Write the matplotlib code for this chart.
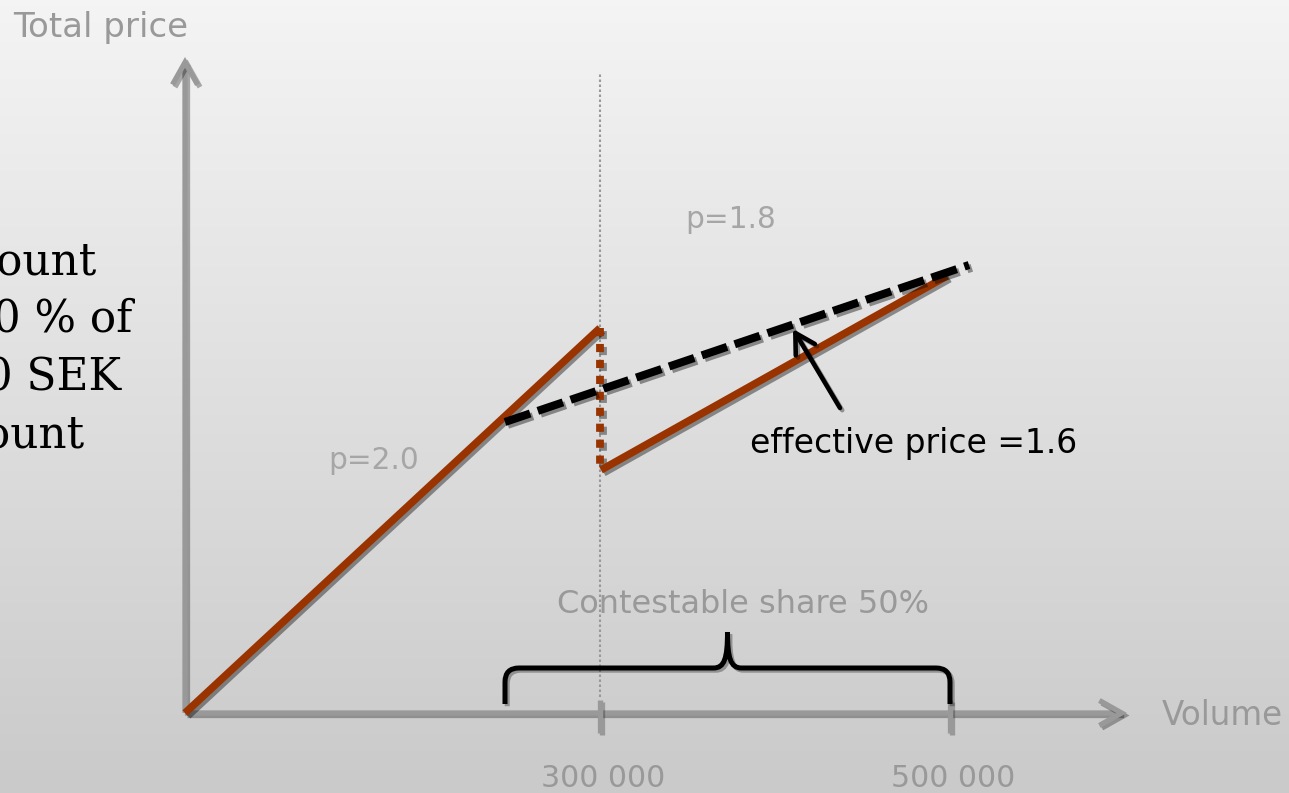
import numpy as np
import matplotlib
matplotlib.use("Agg")
import matplotlib.pyplot as plt
from matplotlib.patches import FancyArrowPatch, PathPatch
from matplotlib.path import Path
from matplotlib.colors import LinearSegmentedColormap
import matplotlib.patheffects as pe

# ---- schematic data (diagram units: volume to the right, total price upwards) ----
volume_ticks = [415, 765]
volume_tick_labels = ["300 000", "500 000"]

list_vol = [0, 415]            # p = 2.0 segment up to the threshold
list_tot = [0, 385]
step_vol = [415, 415]          # drop in total price at the threshold
step_tot = [385, 246]
disc_vol = [416, 762]          # p = 1.8 segment after the threshold
disc_tot = [243, 437]
eff_vol = [320, 784]           # effective price 1.6 over the contestable share
eff_tot = [291, 448]

axis_top = 656
axis_right = 942

left_lines = ["Discount", "10 % of", "40 SEK", "discount"]
left_right_edge = [-88, -53, -64, -100]
left_baseline = [438, 381, 323, 265]

RED = "#993300"
GRAY = "#999999"
LGRAY = "#a6a6a6"

fig = plt.figure(figsize=(12.89, 7.93), dpi=100)
ax = fig.add_axes([0, 0, 1, 1])
xlim = (-185, 1104)
ylim = (-80, 713)

# background gradient
grad = np.linspace(0, 1, 256).reshape(-1, 1)
cmap = LinearSegmentedColormap.from_list("bg", ["#f4f4f4", "#cacaca"])
ax.imshow(grad, aspect="auto", cmap=cmap, extent=(xlim[0], xlim[1], ylim[0], ylim[1]),
          origin="upper", zorder=0, interpolation="bicubic")
ax.set_xlim(*xlim)
ax.set_ylim(*ylim)
ax.axis("off")


def shadow(off=2.0, alpha=0.4):
    return [pe.SimpleLineShadow(offset=(off, -off), shadow_color="black", alpha=alpha),
            pe.Normal()]


# threshold guide line
ax.plot([volume_ticks[0], volume_ticks[0]], [16, 641], color=GRAY, lw=1.5,
        linestyle=(0, (1.2, 1.2)), zorder=1)

# axes with open arrow heads
for start, end in [((0, 0), (0, axis_top)), ((0, 0), (axis_right, 0))]:
    arr = FancyArrowPatch(start, end, arrowstyle="->,head_length=16,head_width=9",
                          mutation_scale=1, lw=3.8, color=GRAY, shrinkA=0, shrinkB=0,
                          zorder=2, joinstyle="miter", capstyle="butt")
    arr.set_path_effects(shadow(1.8, 0.3))
    ax.add_patch(arr)

# ticks
for xv in volume_ticks:
    ax.plot([xv, xv], [-20, 13], color=GRAY, lw=3.8, solid_capstyle="butt", zorder=2,
            path_effects=shadow(1.5, 0.25))

# price lines
ax.plot(list_vol, list_tot, color=RED, lw=5.4, solid_capstyle="butt", zorder=3,
        path_effects=shadow())
ax.plot(step_vol, step_tot, color=RED, lw=5.6, linestyle=(0, (1.05, 1.0)),
        dash_capstyle="butt", zorder=3, path_effects=shadow())
ax.plot(disc_vol, disc_tot, color=RED, lw=5.4, solid_capstyle="butt", zorder=3,
        path_effects=shadow())
ax.plot(eff_vol, eff_tot, color="black", lw=5.8, linestyle=(0, (3.3, 1.0)),
        dash_capstyle="butt", zorder=4, path_effects=shadow())

# curly brace over the contestable share
L, R = eff_vol[0], volume_ticks[1]
M = (L + R) / 2
yb, yt, yp, r = 9, 45, 81, 14
verts = [(L, yb), (L, yt - r), (L, yt), (L + r, yt),
         (M - 14, yt), (M - 3, yt), (M, yt + 10), (M, yp),
         (M, yt + 10), (M + 3, yt), (M + 14, yt),
         (R - r, yt), (R, yt), (R, yt - r), (R, yb)]
codes = [Path.MOVETO, Path.LINETO, Path.CURVE3, Path.CURVE3,
         Path.LINETO, Path.CURVE4, Path.CURVE4, Path.CURVE4,
         Path.CURVE4, Path.CURVE4, Path.CURVE4,
         Path.LINETO, Path.CURVE3, Path.CURVE3, Path.LINETO]
brace = PathPatch(Path(verts, codes), facecolor="none", edgecolor="black", lw=3.6,
                  capstyle="butt", zorder=4)
brace.set_path_effects(shadow(1.6, 0.3))
ax.add_patch(brace)

# pointer to the effective price line
ptr = FancyArrowPatch((655, 305), (608, 384), arrowstyle="->,head_length=14,head_width=8",
                      mutation_scale=1, lw=3.3, color="black", shrinkA=0, shrinkB=0, zorder=5)
ptr.set_path_effects(shadow(1.6, 0.35))
ax.add_patch(ptr)

# labels
sans = "DejaVu Sans"
ax.text(-172, 676, "Total price", fontsize=24.5, color=GRAY, family=sans, va="baseline")
ax.text(977, -12, "Volume", fontsize=23.5, color=GRAY, family=sans, va="baseline")
for xv, lab in zip(volume_ticks, volume_tick_labels):
    ax.text(xv + 3, -74, lab, fontsize=21.6, color=GRAY, family=sans, ha="center",
            va="baseline")
ax.text(500, 485, "p=1.8", fontsize=21.3, color=LGRAY, family=sans, va="baseline")
ax.text(143, 244, "p=2.0", fontsize=21.3, color=LGRAY, family=sans, va="baseline")
ax.text(565, 260, "effective price =1.6", fontsize=23.8, color="black", family=sans,
        va="baseline")
ax.text(372, 100, "Contestable share 50%", fontsize=23, color=GRAY, family=sans,
        va="baseline")

# side note, partly running off the left edge
for txt, xr, yb_ in zip(left_lines, left_right_edge, left_baseline):
    ax.text(xr, yb_, txt, fontsize=31.5, color="black", family="DejaVu Serif",
            ha="right", va="baseline")

fig.savefig("out.png", dpi=100)
